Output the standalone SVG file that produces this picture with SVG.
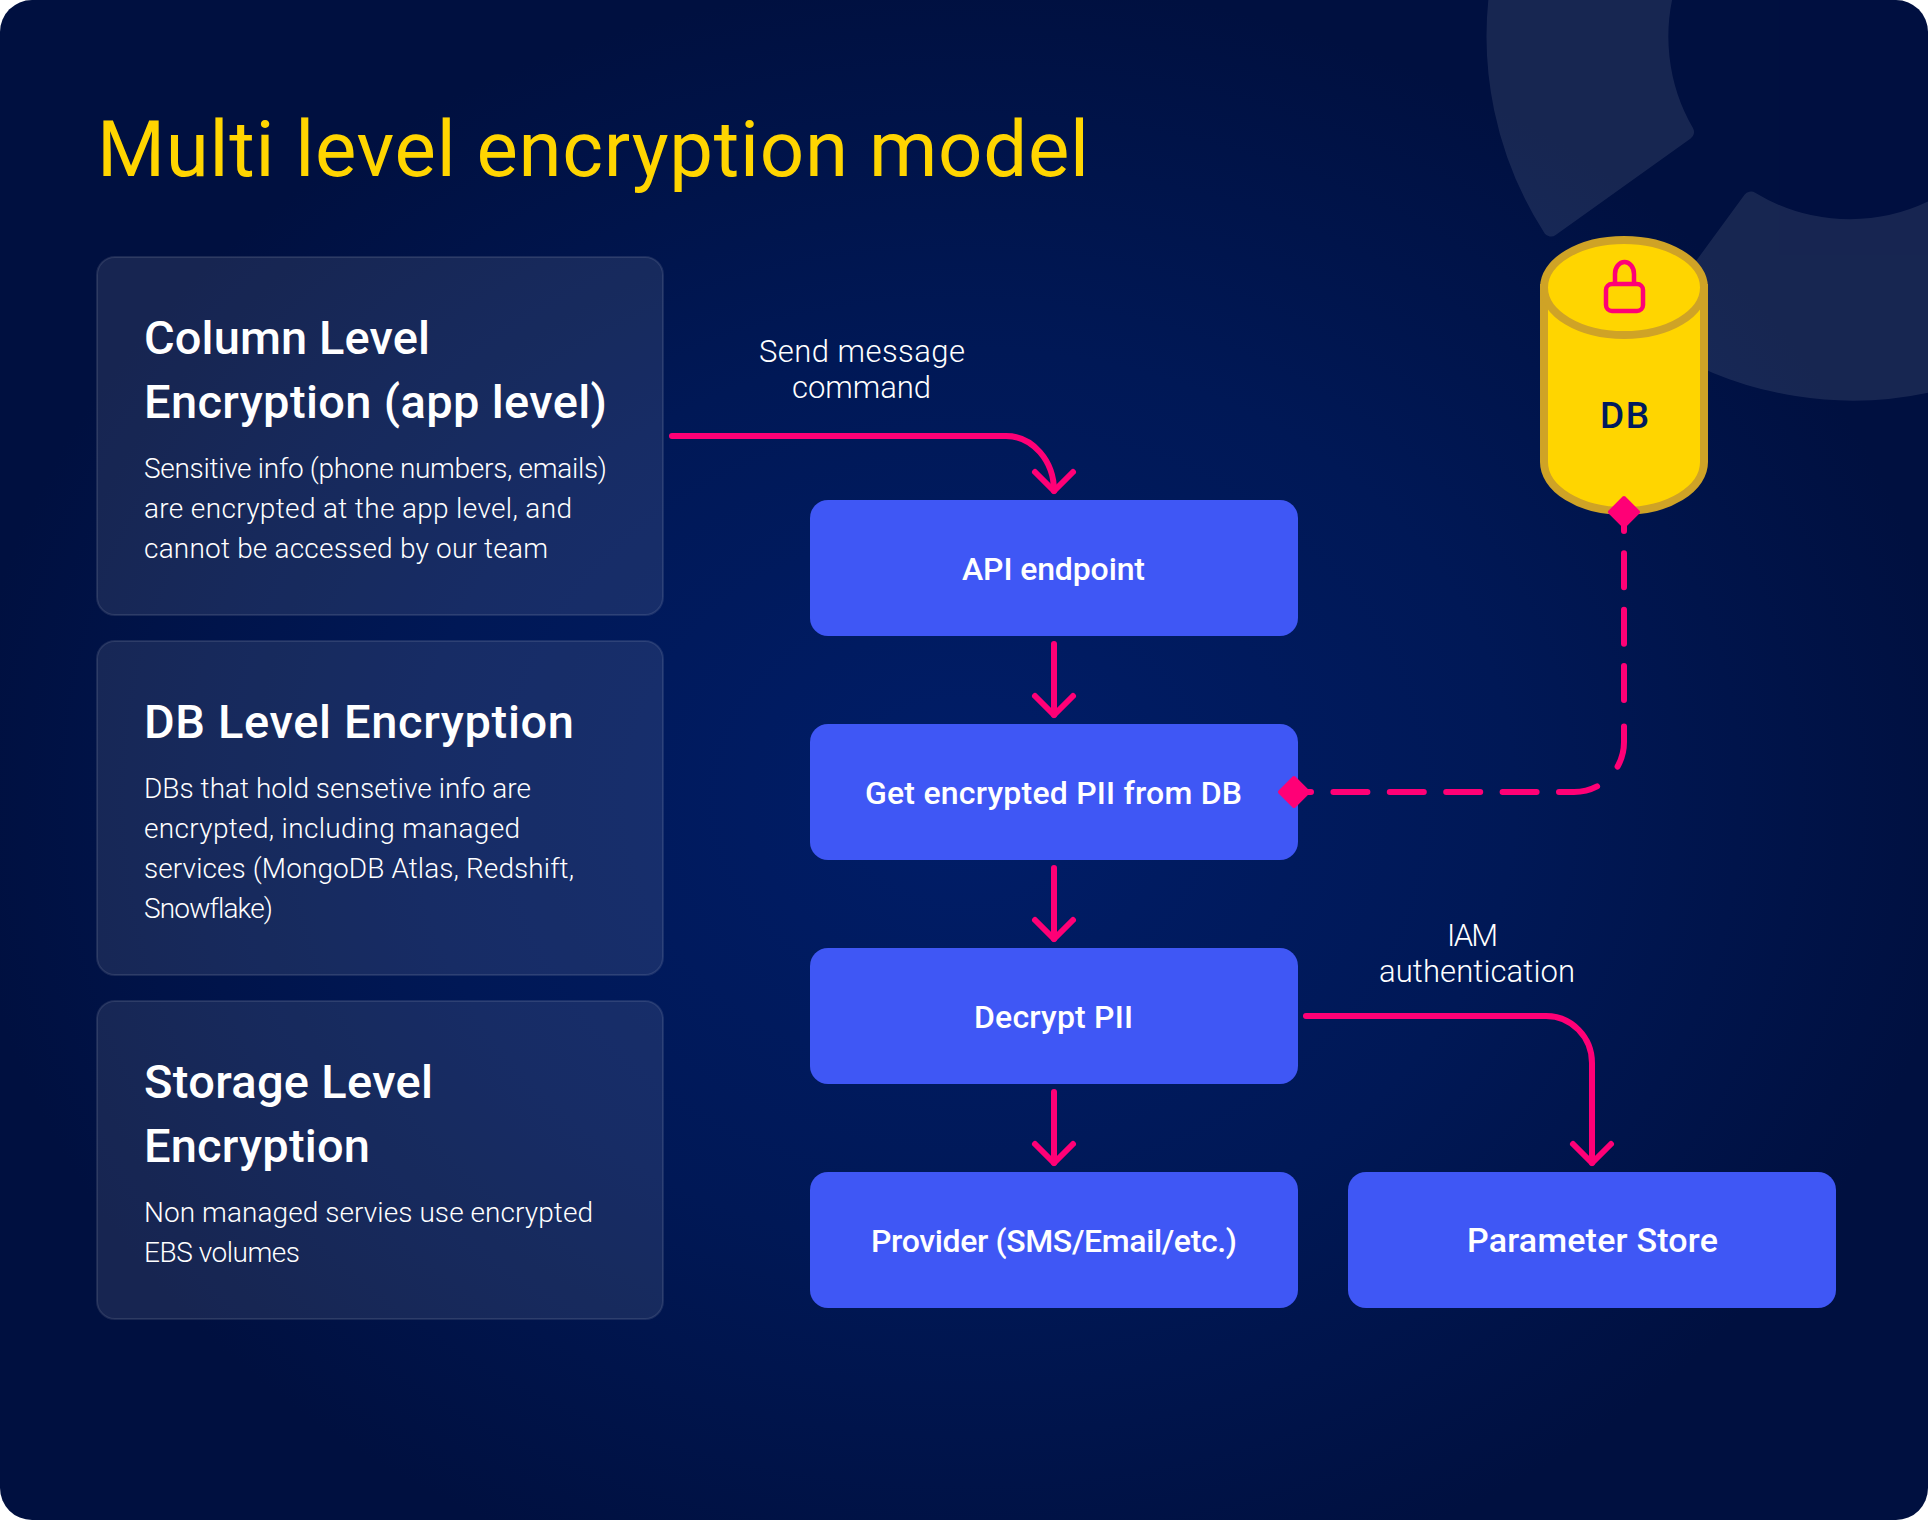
<svg xmlns="http://www.w3.org/2000/svg" width="1928" height="1520" viewBox="0 0 1928 1520">
<defs>
<radialGradient id="bg" gradientUnits="userSpaceOnUse" cx="964" cy="800" r="1" gradientTransform="translate(964 800) scale(1000 820) translate(-964 -800)">
<stop offset="0" stop-color="#001D68"/><stop offset="0.55" stop-color="#001856"/><stop offset="1" stop-color="#001040"/>
</radialGradient>
<clipPath id="panelClip"><rect width="1928" height="1520" rx="32"/></clipPath>
<marker id="arrow" markerUnits="userSpaceOnUse" markerWidth="60" markerHeight="60" refX="30" refY="30" orient="auto" viewBox="0 0 60 60" overflow="visible">
<path d="M11 11 L30 30 L11 49" fill="none" stroke="#FF0076" stroke-width="6" stroke-linecap="round" stroke-linejoin="round"/>
</marker>
<marker id="diamond" markerUnits="userSpaceOnUse" markerWidth="40" markerHeight="40" refX="20" refY="20" orient="0" viewBox="0 0 40 40">
<path d="M20 6 L34 20 L20 34 L6 20 Z" fill="#FF0076" stroke="#FF0076" stroke-width="4" stroke-linejoin="round"/>
</marker>
<style>
text{font-family:"Roboto","Liberation Sans",sans-serif;font-variant-ligatures:none}
.title{font-size:78px;font-weight:400;fill:#FFD500}
.card{fill:#fff;fill-opacity:.09;stroke:#fff;stroke-opacity:.1;stroke-width:2}
.h{font-size:47px;font-weight:500;fill:#fff}
.b{font-size:28px;font-weight:300;fill:#fff}
.node{fill:#3F57F5}
.nt{font-size:32px;font-weight:500;fill:#fff}
.nt2{font-size:34px;font-weight:500;fill:#fff}
.lab{font-size:31px;font-weight:300;fill:#fff}
.wire{fill:none;stroke:#FF0076;stroke-width:6;stroke-linecap:round}
.arr{marker-end:url(#arrow)}
.dash{stroke-dasharray:17 22.4 34 22.4 34 22.4 34 22.4 34 22.4 39 28.8 41 26.5 34 22.4 34 22.4 34 22.4 40 10;marker-start:url(#diamond);marker-end:url(#diamond)}
.cyl{fill:#FFD500;stroke:#CFA326;stroke-width:8}
</style>
</defs>
<rect id="panel" width="1928" height="1520" rx="32" fill="url(#bg)"/>
<g id="decor" clip-path="url(#panelClip)" opacity=".09" fill="#fff" stroke="#fff" stroke-width="16" stroke-linejoin="round">
<path d="M1669 -20 A190 190 0 0 0 1686 132 L1551 228.5 A356 356 0 0 1 1499 -20 Z"/>
<path d="M1751 199.5 A190 190 0 0 0 1950 198.6 L1950 379 A356 356 0 0 1 1654 332 Z"/>
</g>
<text id="title" class="title" x="97" y="176" textLength="992">Multi level encryption model</text>
<g id="card-column">
<rect class="card" x="97" y="257" width="566" height="358" rx="18"/>
<text class="h" x="144" y="354" textLength="286">Column Level</text>
<text class="h" x="144" y="418" textLength="463">Encryption (app level)</text>
<text class="b" x="144" y="478" textLength="463">Sensitive info (phone numbers, emails)</text>
<text class="b" x="144" y="518" textLength="428">are encrypted at the app level, and</text>
<text class="b" x="144" y="558" textLength="404">cannot be accessed by our team</text>
</g>
<g id="card-db">
<rect class="card" x="97" y="641" width="566" height="334" rx="18"/>
<text class="h" x="144" y="738" textLength="430">DB Level Encryption</text>
<text class="b" x="144" y="798" textLength="387">DBs that hold sensetive info are</text>
<text class="b" x="144" y="838" textLength="376">encrypted, including managed</text>
<text class="b" x="144" y="878" textLength="430">services (MongoDB Atlas, Redshift,</text>
<text class="b" x="144" y="918" textLength="129">Snowflake)</text>
</g>
<g id="card-storage">
<rect class="card" x="97" y="1001" width="566" height="318" rx="18"/>
<text class="h" x="144" y="1098" textLength="289">Storage Level</text>
<text class="h" x="144" y="1162" textLength="226">Encryption</text>
<text class="b" x="144" y="1222" textLength="449">Non managed servies use encrypted</text>
<text class="b" x="144" y="1262" textLength="156">EBS volumes</text>
</g>
<g id="node-api"><rect class="node" x="810" y="500" width="488" height="136" rx="18"/><text class="nt" x="962" y="580" textLength="183">API endpoint</text></g>
<g id="node-get"><rect class="node" x="810" y="724" width="488" height="136" rx="18"/><text class="nt" x="865" y="804" textLength="377">Get encrypted PII from DB</text></g>
<g id="node-decrypt"><rect class="node" x="810" y="948" width="488" height="136" rx="18"/><text class="nt" x="974" y="1028" textLength="159">Decrypt PII</text></g>
<g id="node-provider"><rect class="node" x="810" y="1172" width="488" height="136" rx="18"/><text class="nt" x="871" y="1252" textLength="366">Provider (SMS/Email/etc.)</text></g>
<g id="node-param"><rect class="node" x="1348" y="1172" width="488" height="136" rx="18"/><text class="nt2" x="1467" y="1252" textLength="251">Parameter Store</text></g>
<g id="node-dbstore">
<path class="cyl" d="M1544 288 V462 A80 49 0 0 0 1704 462 V288 Z"/>
<ellipse class="cyl" cx="1624" cy="287.5" rx="80" ry="47.5"/>
<rect x="1606" y="284" width="37" height="27" rx="6" fill="none" stroke="#FF0076" stroke-width="4.5"/>
<path d="M1615 284 V274 A9.5 12 0 0 1 1634 274 V284" fill="none" stroke="#FF0076" stroke-width="4.5"/>
<text x="1600" y="428" font-size="37" font-weight="500" fill="#001A5E" textLength="49">DB</text>
</g>
<g id="labels">
<text class="lab" x="759" y="362" textLength="206">Send message</text>
<text class="lab" x="792" y="398" textLength="139">command</text>
<text class="lab" x="1447" y="946" textLength="51">IAM</text>
<text class="lab" x="1379" y="982" textLength="196">authentication</text>
</g>
<g id="connectors">
<path class="wire arr" d="M672 436 H1006 A48 55 0 0 1 1054 491"/>
<path class="wire arr" d="M1054 644 V715"/>
<path class="wire arr" d="M1054 868 V939"/>
<path class="wire arr" d="M1054 1092 V1163"/>
<path class="wire arr" d="M1306 1016 H1546 A46 47 0 0 1 1592 1063 V1163"/>
<path class="wire dash" d="M1294 792 H1574 A50 50 0 0 0 1624 742 V512"/>
</g>
</svg>
